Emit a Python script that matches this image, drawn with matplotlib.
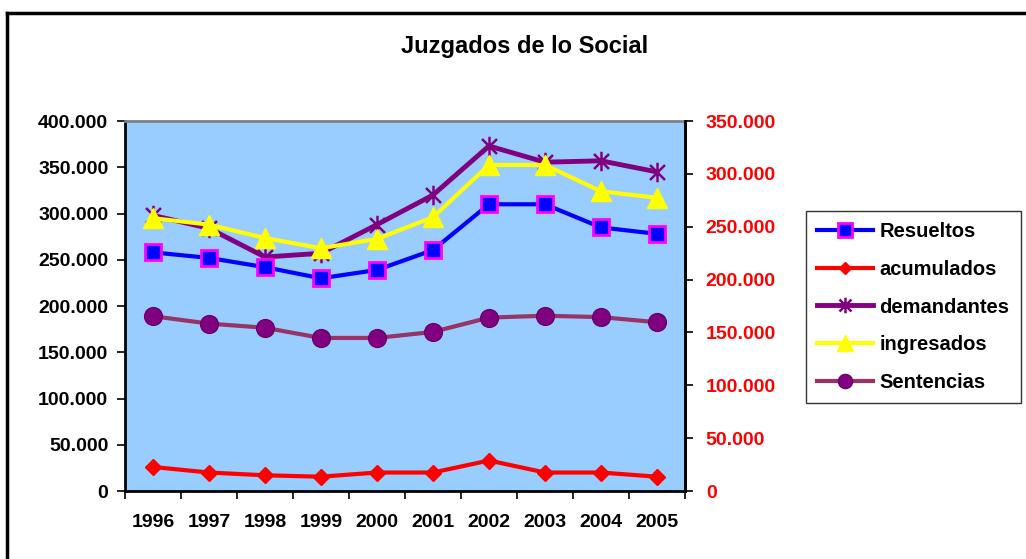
import matplotlib
matplotlib.use("Agg")
import matplotlib.pyplot as plt
from matplotlib.path import Path
from matplotlib.ticker import FuncFormatter, MultipleLocator, FixedLocator
from matplotlib.lines import Line2D

# Datos
anios = ["1996", "1997", "1998", "1999", "2000", "2001", "2002", "2003", "2004", "2005"]
resueltos = [258000, 252000, 242000, 230000, 239000, 260500, 310000, 310000, 285000, 278000]
acumulados = [26000, 20000, 17000, 15500, 20000, 20000, 33000, 20000, 20000, 15500]
demandantes = [298000, 284000, 253000, 257000, 288000, 320000, 373000, 355500, 357000, 345000]
ingresados = [295000, 288000, 273500, 262500, 272500, 296000, 352500, 352500, 324000, 317000]
sentencias = [189000, 181000, 176500, 165500, 165500, 172000, 187500, 189500, 188000, 182500]

plt.rcParams['font.family'] = ['Liberation Sans', 'DejaVu Sans']
plt.rcParams['font.weight'] = 'bold'

# marcador asterisco tipo Excel (cruz + vertical)
estrella = Path([(-1, -1), (1, 1), (-1, 1), (1, -1), (0, -1.3), (0, 1.3)],
                [Path.MOVETO, Path.LINETO, Path.MOVETO, Path.LINETO, Path.MOVETO, Path.LINETO])

def miles(v, pos):
    return f"{int(round(v)):,}".replace(",", ".")

fig = plt.figure(figsize=(10.26, 5.59), dpi=100)
ax = fig.add_axes([0.1218, 0.1216, 0.5458, 0.6619])
ax.set_facecolor("#99CCFF")

x = list(range(len(anios)))
ax.plot(x, resueltos, color="#0000FF", lw=3, marker="s", ms=12, mfc="#0000FF",
        mec="#FF00FF", mew=2, label="Resueltos", zorder=4)
ax.plot(x, acumulados, color="#FF0000", lw=3, marker="D", ms=8, mfc="#FF0000",
        mec="#FF0000", label="acumulados", zorder=4)
ax.plot(x, demandantes, color="#800080", lw=3.5, marker=estrella, ms=14, mfc="none",
        mec="#800080", mew=1.8, label="demandantes", zorder=3)
ax.plot(x, ingresados, color="#FFFF00", lw=3, marker="^", ms=15, mfc="#FFFF00",
        mec="#FFFF00", label="ingresados", zorder=4)
ax.plot(x, sentencias, color="#993366", lw=3, marker="o", ms=13, mfc="#800080",
        mec="#660066", mew=0.8, label="Sentencias", zorder=4)

ax.set_xlim(-0.5, 9.5)
ax.set_ylim(0, 400000)
ax.yaxis.set_major_locator(MultipleLocator(50000))
ax.yaxis.set_major_formatter(FuncFormatter(miles))
ax.xaxis.set_major_locator(FixedLocator([i - 0.5 for i in range(len(anios) + 1)]))
ax.xaxis.set_major_formatter(FuncFormatter(lambda v, p: ""))
ax.xaxis.set_minor_locator(FixedLocator(x))
ax.set_xticklabels(anios, minor=True)
ax.tick_params(axis="x", which="major", length=6, width=1.2, direction="out")
ax.tick_params(axis="x", which="minor", length=0, pad=16.5, labelsize=14)
ax.tick_params(axis="y", length=6, width=1.2, direction="out", pad=6, labelsize=14)

for s in ["left", "bottom", "right"]:
    ax.spines[s].set_linewidth(2)
    ax.spines[s].set_color("#000000")
ax.spines["top"].set_linewidth(2)
ax.spines["top"].set_color("#808080")

# eje secundario
ax2 = ax.twinx()
ax2.set_ylim(0, 350000)
ax2.yaxis.set_major_locator(MultipleLocator(50000))
ax2.yaxis.set_major_formatter(FuncFormatter(miles))
ax2.tick_params(axis="y", length=6, width=1.2, direction="out", pad=9,
                labelsize=14, labelcolor="#FF0000")
for s in ax2.spines.values():
    s.set_visible(False)
ax2.spines["right"].set_visible(True)
ax2.spines["right"].set_linewidth(2)
ax2.spines["right"].set_color("#000000")

fig.text(0.511, 0.916, "Juzgados de lo Social", ha="center", va="center",
         fontsize=17, fontweight="bold")

leg = fig.legend(*ax.get_legend_handles_labels(), loc="upper left",
                 bbox_to_anchor=(806 / 1026, 1 - 211 / 559), fontsize=14.5,
                 frameon=True, fancybox=False, handlelength=2.8, handletextpad=0.3,
                 labelspacing=0.93, borderpad=0.55, borderaxespad=0, markerscale=0.8)
leg.get_frame().set_edgecolor("#000000")
leg.get_frame().set_linewidth(1)

# borde del area del grafico
fig.add_artist(Line2D([7 / 1026, 7 / 1026], [0, 1 - 13 / 559], color="black", lw=2.5))
fig.add_artist(Line2D([7 / 1026, 1], [1 - 13 / 559, 1 - 13 / 559], color="black", lw=2.5))

fig.savefig("out.png", dpi=100)
